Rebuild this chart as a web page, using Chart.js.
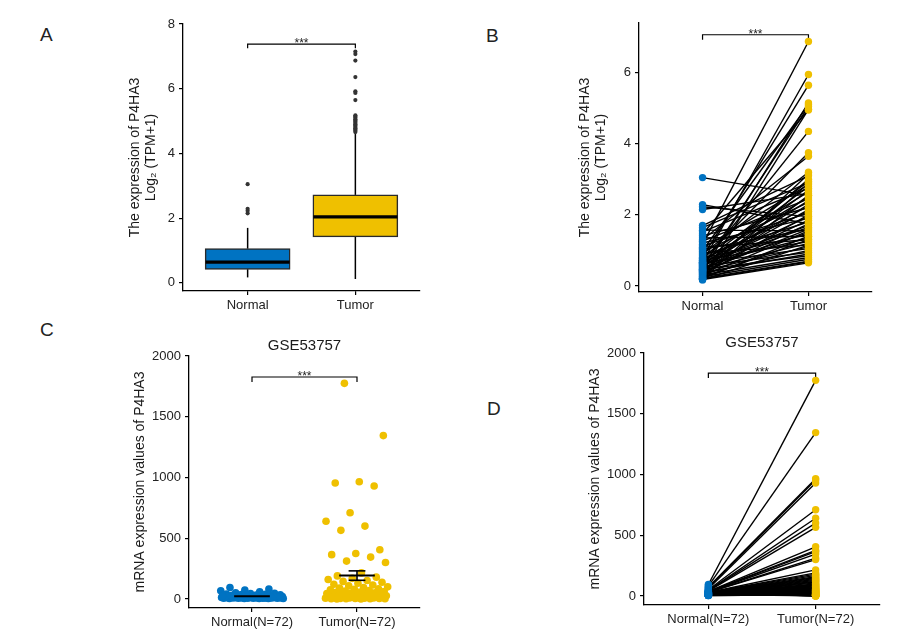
<!DOCTYPE html>
<html>
<head>
<meta charset="utf-8">
<script src="https://cdn.jsdelivr.net/npm/chart.js@4.4.1/dist/chart.umd.min.js"></script>
<style>
  body { margin: 0; background: #fff; width: 905px; height: 644px; overflow: hidden; position: relative;
         font-family: "Liberation Sans", Arial, sans-serif; }
  canvas { position: absolute; }
  .tag { position: absolute; font-size: 19px; line-height: 1; color: #222; }
</style>
</head>
<body>
<div class="tag" style="left:40px;top:25px">A</div>
<div class="tag" style="left:486px;top:26px">B</div>
<div class="tag" style="left:40px;top:320px">C</div>
<div class="tag" style="left:487px;top:399px">D</div>

<canvas id="chartA" width="322" height="320" style="left:118px;top:0px;width:322px;height:320px"></canvas>
<canvas id="chartB" width="322" height="320" style="left:568px;top:0px;width:322px;height:320px"></canvas>
<canvas id="chartC" width="318" height="318" style="left:122px;top:326px;width:318px;height:318px"></canvas>
<canvas id="chartD" width="313" height="321" style="left:577px;top:323px;width:313px;height:321px"></canvas>

<script>
// ---- data ----
const groups = ['Normal', 'Tumor'];
const gseGroups = ['Normal(N=72)', 'Tumor(N=72)'];

// A: TCGA box plot, [lower whisker, q1, median, q3, upper whisker]
const boxNormal = [0.17, 0.42, 0.64, 1.06, 1.70];
const boxTumor = [0.12, 1.42, 2.04, 2.72, 4.63];
const outNormal = [2.15, 2.23, 2.29, 3.05];
const outTumor = [4.66, 4.70, 4.74, 4.78, 4.82, 4.86, 4.90, 4.94, 4.98, 5.02, 5.06, 5.10, 5.14, 5.18,
                  5.65, 5.87, 5.92, 6.36, 6.87, 7.07, 7.15];
const ticksA = [0, 2, 4, 6, 8];

// B: 72 paired TCGA samples (normal -> tumor)
const pairNormal = [3.05, 2.29, 2.23, 2.15, 1.70, 1.64, 1.57, 1.52, 1.46, 1.41, 1.35, 1.30, 1.26, 1.21,
                    1.17, 1.13, 1.09, 1.06, 1.03, 0.99, 0.96, 0.93, 0.90, 0.87, 0.84, 0.81, 0.78, 0.76,
                    0.74, 0.72, 0.70, 0.68, 0.67, 0.66, 0.65, 0.64, 0.63, 0.61, 0.60, 0.58, 0.57, 0.55,
                    0.54, 0.52, 0.51, 0.49, 0.48, 0.47, 0.46, 0.45, 0.44, 0.43, 0.42, 0.41, 0.40, 0.38,
                    0.37, 0.35, 0.34, 0.32, 0.31, 0.29, 0.28, 0.26, 0.25, 0.23, 0.22, 0.21, 0.20, 0.19,
                    0.18, 0.17];
const pairTumor = [2.55, 1.75, 1.95, 2.60, 3.10, 2.90, 1.55, 2.75, 4.95, 2.20, 1.40, 3.65, 2.45, 1.90,
                   6.88, 2.05, 1.30, 2.85, 1.60, 5.10, 2.35, 1.15, 3.20, 1.80, 2.65, 5.65, 1.45, 2.10,
                   3.75, 1.25, 2.50, 1.70, 5.95, 2.95, 1.05, 2.25, 1.65, 4.35, 1.35, 2.80, 1.95, 0.95,
                   2.40, 5.05, 1.50, 3.00, 1.20, 2.15, 0.85, 1.85, 2.70, 1.10, 5.15, 1.60, 2.30, 0.90,
                   1.75, 3.15, 1.00, 2.00, 0.80, 1.55, 2.55, 0.75, 1.30, 4.97, 0.70, 1.40, 0.68, 2.90,
                   0.65, 1.15];
const ticksB = [0, 2, 4, 6];

// C / D: GSE53757, 72 paired samples
const gseNormal = [95, 82, 74, 68, 60, 52, 47, 44, 41, 38, 36, 34, 33, 31, 30, 29, 28, 27, 26, 25,
                   24, 23, 22, 21, 20, 19, 19, 18, 17, 17, 16, 15, 15, 14, 14, 13, 13, 12, 12, 11,
                   11, 10, 10, 9, 9, 9, 8, 8, 8, 7, 7, 7, 6, 6, 6, 5, 5, 5, 4, 4,
                   12, 16, 20, 25, 9, 14, 18, 22, 27, 11, 19, 24];
const gseTumor = [1775, 1345, 965, 955, 930, 710, 640, 600, 565, 405, 375, 365, 345, 312, 300, 215,
                  190, 180, 170, 160, 152, 145, 138, 130, 122, 115, 108, 100, 95, 90, 85, 80, 75, 70,
                  66, 62, 58, 55, 52, 48, 45, 42, 40, 37, 35, 32, 30, 28, 26, 24, 22, 20, 18, 17,
                  15, 14, 12, 11, 10, 9, 8, 7, 6, 5, 5, 4, 3, 3, 2, 2, 1, 1];
const ticksCD = [0, 500, 1000, 1500, 2000];

// ---- look ----
const blue = '#0073C2';
const yellow = '#EFC000';
Chart.defaults.font.family = '"Liberation Sans", Arial, sans-serif';

function seg(x1, y1, x2, y2, width) {
  return { type: 'scatter', showLine: true, data: [{x: x1, y: y1}, {x: x2, y: y2}],
           borderColor: '#000', borderWidth: width || 1.3, pointRadius: 0, order: 1 };
}
function points(x, values, color, r, jitter) {
  return { type: 'scatter', order: 0, pointRadius: r, pointBackgroundColor: color, pointBorderColor: color,
           pointBorderWidth: 0,
           data: values.map((v, i) => ({x: x + (jitter ? jitter(i) : 0), y: v})) };
}
function bracket(level, drop) {
  return { type: 'scatter', showLine: true, order: 1, pointRadius: 0, borderColor: '#000', borderWidth: 1.2,
           data: [{x: 1, y: level - drop}, {x: 1, y: level}, {x: 2, y: level}, {x: 2, y: level - drop}] };
}
function meanSem(arr) {
  const m = arr.reduce((a, b) => a + b, 0) / arr.length;
  const sd = Math.sqrt(arr.reduce((a, b) => a + (b - m) * (b - m), 0) / (arr.length - 1));
  return [m, sd / Math.sqrt(arr.length)];
}

// the "***" over each bracket
const sigPlugin = {
  id: 'sig',
  afterDatasetsDraw(chart, args, opts) {
    const {ctx, scales: {x, y}} = chart;
    ctx.save();
    ctx.font = '12px "Liberation Sans", Arial, sans-serif';
    ctx.fillStyle = '#222';
    ctx.textAlign = 'center';
    ctx.textBaseline = 'alphabetic';
    ctx.fillText('***', x.getPixelForValue(1.5), y.getPixelForValue(opts.level) + 3);
    ctx.restore();
  }
};

function axisX(labels, h) {
  return {
    type: 'linear', min: 0.4, max: 2.6, offset: false,
    afterBuildTicks: s => { s.ticks = [{value: 1}, {value: 2}]; },
    ticks: { callback: (v, i) => labels[i], color: '#222', font: {size: 13}, padding: 3,
             autoSkip: false, maxRotation: 0 },
    grid: { drawOnChartArea: false, drawTicks: true, tickLength: 4, color: '#000', lineWidth: 1.2, offset: false },
    border: { display: true, color: '#000', width: 1.3 },
    afterFit: s => { s.height = h; }
  };
}
function axisY(min, max, ticks, title, w) {
  return {
    type: 'linear', min: min, max: max,
    afterBuildTicks: s => { s.ticks = ticks.map(v => ({value: v})); },
    ticks: { callback: v => String(v), color: '#222', font: {size: 13}, padding: 4 },
    grid: { drawOnChartArea: false, drawTicks: true, tickLength: 4, color: '#000', lineWidth: 1.2 },
    border: { display: true, color: '#000', width: 1.3 },
    title: { display: true, text: title, color: '#1a1a1a', font: {size: 14, lineHeight: 1.15},
             padding: {top: 4, bottom: 4} },
    afterFit: s => { s.width = w; }
  };
}
function makeChart(id, cfg) {
  return new Chart(document.getElementById(id), {
    type: 'scatter',
    data: { datasets: cfg.datasets },
    options: {
      responsive: false, animation: false, events: [],
      layout: { padding: cfg.pad },
      plugins: {
        legend: { display: false },
        tooltip: { enabled: false },
        title: cfg.title ? { display: true, text: cfg.title, color: '#1a1a1a', fullSize: false,
                             font: {size: 15, weight: 'normal'}, padding: cfg.titlePad } : { display: false },
        sig: { level: cfg.sig }
      },
      scales: { x: axisX(cfg.labels, cfg.xh), y: axisY(cfg.ymin, cfg.ymax, cfg.ticks, cfg.ytitle, cfg.yw) }
    },
    plugins: [sigPlugin]
  });
}

const titleTcga = ['The expression of P4HA3', 'Log\u2082 (TPM+1)'];
const titleGse = 'mRNA expression values of P4HA3';

// ---- A: box plot ----
makeChart('chartA', {
  pad: {left: 5, top: 24, right: 20, bottom: 0}, xh: 29, yw: 60,
  labels: groups, ymin: -0.25, ymax: 8, ticks: ticksA, ytitle: titleTcga, sig: 7.38,
  datasets: [
    seg(0.61, boxNormal[2], 1.39, boxNormal[2], 3.2),
    seg(1.61, boxTumor[2], 2.39, boxTumor[2], 3.2),
    { type: 'bar', order: 2, barThickness: 85, borderSkipped: false, borderWidth: 1.5, borderColor: '#2a2a2a',
      backgroundColor: [blue, yellow],
      data: [{x: 1, y: [boxNormal[1], boxNormal[3]]}, {x: 2, y: [boxTumor[1], boxTumor[3]]}] },
    seg(1, boxNormal[3], 1, boxNormal[4], 1.5), seg(1, boxNormal[0], 1, boxNormal[1], 1.5),
    seg(2, boxTumor[3], 2, boxTumor[4], 1.5), seg(2, boxTumor[0], 2, boxTumor[1], 1.5),
    points(1, outNormal, '#333', 2.1),
    points(2, outTumor, '#333', 2.1),
    bracket(7.38, 0.13)
  ]
});

// ---- B: paired lines ----
makeChart('chartB', {
  pad: {left: 5, top: 23, right: 18, bottom: 0}, xh: 28, yw: 66,
  labels: groups, ymin: -0.17, ymax: 7.4, ticks: ticksB, ytitle: titleTcga, sig: 7.07,
  datasets: [
    points(1, pairNormal, blue, 3.7),
    points(2, pairTumor, yellow, 3.7),
    ...pairNormal.map((n, i) => seg(1, n, 2, pairTumor[i], 1.4)),
    bracket(7.07, 0.14)
  ]
});

// ---- C: jittered dots with mean +/- SEM ----
const [mN, seN] = meanSem(gseNormal);
const [mT, seT] = meanSem(gseTumor);
const jitN = i => (((i * 0.6180339887 + 0.15) % 1) - 0.5) * 0.6;
const jitT = i => (((i * 0.6180339887 + 0.3) % 1) - 0.5) * 0.6;
makeChart('chartC', {
  pad: {left: 6, top: 2, right: 20, bottom: 0}, xh: 36, yw: 61,
  title: 'GSE53757', titlePad: {top: 9, bottom: 1},
  labels: gseGroups, ymin: -74, ymax: 2000, ticks: ticksCD, ytitle: titleGse, sig: 1827,
  datasets: [
    Object.assign(seg(0.83, mN, 1.17, mN, 2), {order: -1}),
    Object.assign(seg(1.83, mT, 2.17, mT, 2), {order: -1}),
    Object.assign(seg(2, mT - seT, 2, mT + seT, 1.6), {order: -1}),
    Object.assign(seg(1.92, mT + seT, 2.08, mT + seT, 1.6), {order: -1}),
    Object.assign(seg(1.92, mT - seT, 2.08, mT - seT, 1.6), {order: -1}),
    Object.assign(seg(1, mN - seN, 1, mN + seN, 1.6), {order: -1}),
    points(1, gseNormal, blue, 3.8, jitN),
    points(2, gseTumor, yellow, 3.8, jitT),
    bracket(1827, 41)
  ]
});

// ---- D: paired lines ----
makeChart('chartD', {
  pad: {left: 6, top: 1, right: 10, bottom: 0}, xh: 39, yw: 61,
  title: 'GSE53757', titlePad: {top: 10, bottom: 1},
  labels: gseGroups, ymin: -74, ymax: 2000, ticks: ticksCD, ytitle: titleGse, sig: 1835,
  datasets: [
    points(1, gseNormal, blue, 3.7),
    points(2, gseTumor, yellow, 3.7),
    ...gseNormal.map((n, i) => seg(1, n, 2, gseTumor[i], 1.4)),
    bracket(1835, 41)
  ]
});
</script>
</body>
</html>
